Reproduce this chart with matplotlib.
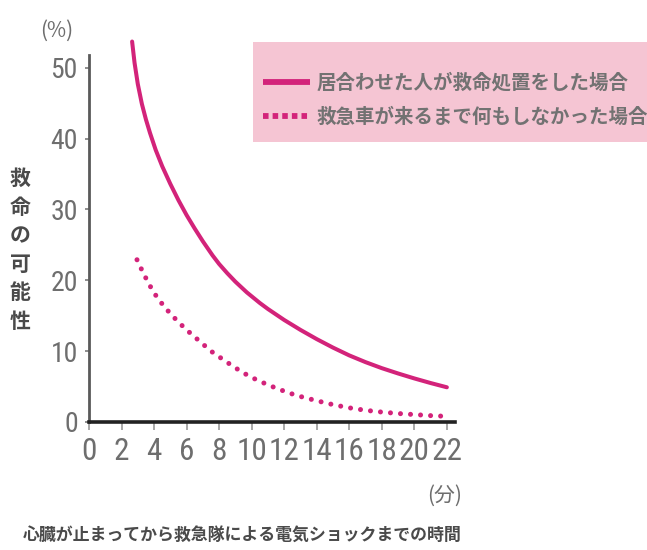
import matplotlib
matplotlib.use("Agg")
import matplotlib.pyplot as plt
from matplotlib import font_manager
from matplotlib.lines import Line2D
from matplotlib.patches import Rectangle


# minutes from cardiac arrest to defibrillation vs. survival chance (%)
bystander_minutes = [2.65, 2.8, 3.0, 3.25, 3.5, 3.75, 4.1, 4.5, 5.0, 5.5, 6.0, 6.5, 7.0, 7.6,
                     8.0, 8.5, 9.0, 9.7, 10.5, 11.0, 12.0, 13.0, 14.0, 15.0, 16.0, 17.0, 18.0,
                     19.0, 20.0, 21.0, 22.0]
bystander_rate = [53.7, 50.7, 47.7, 44.9, 42.7, 40.8, 38.4, 36.1, 33.6, 31.3, 29.2, 27.3, 25.5, 23.5,
                  22.3, 21.0, 19.8, 18.3, 16.8, 15.95, 14.4, 13.0, 11.7, 10.5, 9.4, 8.45, 7.6,
                  6.85, 6.15, 5.5, 4.9]

no_aid_minutes = [2.95, 3.3, 3.7, 4.1, 4.55, 5.0, 5.5, 6.0, 6.5, 7.0, 7.5, 8.0, 8.7, 9.3, 9.9,
                  10.5, 11.0, 11.7, 12.5, 13.0, 14.0, 15.0, 16.0, 17.0, 18.0, 19.0, 20.0, 21.0, 22.0]
no_aid_rate = [22.9, 21.2, 19.4, 17.9, 16.5, 15.3, 14.1, 13.0, 12.0, 11.0, 10.0, 9.2, 8.1, 7.2, 6.4,
               5.75, 5.25, 4.6, 3.95, 3.6, 3.0, 2.45, 2.0, 1.65, 1.4, 1.2, 1.05, 0.9, 0.8]

series_labels = ["居合わせた人が救命処置をした場合", "救急車が来るまで何もしなかった場合"]
x_ticks = list(range(0, 23, 2))
y_ticks = [0, 10, 20, 30, 40, 50]

x_label = "心臓が止まってから救急隊による電気ショックまでの時間"
y_label = "救命の可能性"
x_unit = "(分)"
y_unit = "(%)"

LINE_COLOR = "#d3237a"
BOX_COLOR = "#f5c5d3"
TEXT_GRAY = "#6e6e6e"
LABEL_GRAY = "#4a4a4a"
CJK = ["Noto Sans CJK JP", "DejaVu Sans"]

installed = {f.name for f in font_manager.fontManager.ttflist}
num_family = next(
    (name for name in ("Liberation Sans Narrow", "Roboto Condensed", "Arial Narrow") if name in installed),
    "Roboto",
)

W, H = 647, 550
figure = plt.figure(figsize=(W / 100, H / 100), dpi=100)
figure.patch.set_facecolor("white")

# axes box in pixel terms: x from 89 to 455, y from 55 to 422
axis = figure.add_axes([89 / W, 1 - 422 / H, (455 - 89) / W, (422 - 55) / H])
axis.set_xlim(0, 22.5)
axis.set_ylim(0, 51.8)

solid_style = dict(color=LINE_COLOR, linewidth=2.9, solid_capstyle="round", solid_joinstyle="round")
dot_style = dict(color=LINE_COLOR, linewidth=3.6, linestyle=(0, (0.01, 2.0)), dash_capstyle="round")

axis.plot(bystander_minutes, bystander_rate, clip_on=False, zorder=3, **solid_style)
axis.plot(no_aid_minutes, no_aid_rate, clip_on=False, zorder=3, **dot_style)

for side in ("top", "right"):
    axis.spines[side].set_visible(False)
axis.spines["left"].set_color("#5a5a5a")
axis.spines["left"].set_linewidth(2.0)
axis.spines["bottom"].set_color("#222222")
axis.spines["bottom"].set_linewidth(2.6)

axis.set_xticks(x_ticks)
axis.set_yticks(y_ticks)
axis.tick_params(axis="x", direction="out", length=6, width=1.2, color="#9a9a9a", pad=5)
axis.tick_params(axis="y", direction="out", length=3, width=1.2, color="#7a7a7a", pad=5)
axis.set_xticklabels([str(v) for v in x_ticks], family=num_family, fontsize=22.5, color=TEXT_GRAY)
axis.set_yticklabels([str(v) for v in y_ticks], family=num_family, fontsize=20, color=TEXT_GRAY)

# units and axis titles
figure.text(57 / W, 1 - 31 / H, y_unit, family=CJK, fontsize=15, color=TEXT_GRAY, ha="center", va="center")
figure.text(445 / W, 1 - 496 / H, x_unit, family=CJK, fontsize=15, color=TEXT_GRAY, ha="center", va="center")
figure.text(20 / W, 1 - 250 / H, "\n".join(y_label), family=CJK, fontsize=15, fontweight="bold",
            color=LABEL_GRAY, ha="center", va="center", linespacing=1.45)
figure.text(23 / W, 1 - 535 / H, x_label, family=CJK, fontsize=12.2, fontweight="bold",
            color=LABEL_GRAY, ha="left", va="center")

# pink legend panel running off the right edge
figure.patches.append(Rectangle((253 / W, 1 - 142 / H), (W - 253) / W, 100 / H,
                                transform=figure.transFigure, facecolor=BOX_COLOR,
                                edgecolor="none", zorder=0))
handles = [
    Line2D([], [], color=LINE_COLOR, linewidth=4.2, solid_capstyle="butt"),
    Line2D([], [], color=LINE_COLOR, linewidth=4.2, linestyle=(0, (0.95, 0.7)), dash_capstyle="butt"),
]
legend = figure.legend(handles, series_labels, loc="center left", bbox_to_anchor=(263 / W, 1 - 100 / H),
                       frameon=False, borderpad=0, borderaxespad=0, handlelength=2.4,
                       handletextpad=0.35, labelspacing=0.8,
                       prop=dict(family=CJK, size=14, weight="bold"))
for text in legend.get_texts():
    text.set_color("#727272")

figure.savefig("out.png", dpi=100)
